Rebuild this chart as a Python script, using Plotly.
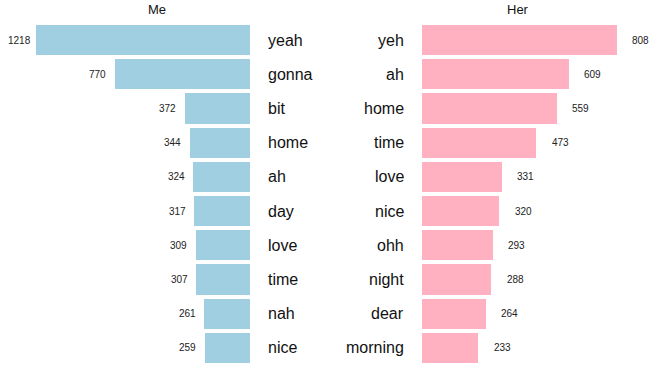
import plotly.graph_objects as go

me_words = ["yeah", "gonna", "bit", "home", "ah", "day", "love", "time", "nah", "nice"]
me_counts = [1218, 770, 372, 344, 324, 317, 309, 307, 261, 259]
her_words = ["yeh", "ah", "home", "time", "love", "nice", "ohh", "night", "dear", "morning"]
her_counts = [808, 609, 559, 473, 331, 320, 293, 288, 264, 233]
ranks = list(range(10))

BLUE = "#a0cfe2"
PINK = "#ffb1c1"
FONT = "Liberation Sans, Arial, sans-serif"

fig = go.Figure()
fig.add_trace(go.Bar(x=me_counts, y=ranks, orientation="h", marker=dict(color=BLUE, line=dict(width=0)),
                     width=0.88, xaxis="x", yaxis="y", hoverinfo="skip", showlegend=False))
fig.add_trace(go.Bar(x=her_counts, y=ranks, orientation="h", marker=dict(color=PINK, line=dict(width=0)),
                     width=0.88, xaxis="x2", yaxis="y2", hoverinfo="skip", showlegend=False))

ann = []
for r, w, c in zip(ranks, me_words, me_counts):
    ann.append(dict(x=c, y=r, xref="x", yref="y", text=str(c), showarrow=False, xanchor="center",
                    xshift=-17, font=dict(size=10, color="#222", family=FONT)))
    ann.append(dict(x=0, y=r, xref="x", yref="y", text=w, showarrow=False, xanchor="left",
                    xshift=16, font=dict(size=16, color="#111", family=FONT)))
for r, w, c in zip(ranks, her_words, her_counts):
    ann.append(dict(x=c, y=r, xref="x2", yref="y2", text=str(c), showarrow=False, xanchor="center",
                    xshift=24, font=dict(size=10, color="#222", family=FONT)))
    ann.append(dict(x=0, y=r, xref="x2", yref="y2", text=w, showarrow=False, xanchor="right",
                    xshift=-16, font=dict(size=16, color="#111", family=FONT)))
ann.append(dict(x=146/657, y=1, xref="paper", yref="paper", text="Me", showarrow=False,
                yanchor="bottom", yshift=4, font=dict(size=13, color="#111", family=FONT)))
ann.append(dict(x=531/657, y=1, xref="paper", yref="paper", text="Her", showarrow=False,
                yanchor="bottom", yshift=4, font=dict(size=13, color="#111", family=FONT)))

axis_common = dict(showgrid=False, zeroline=False, showticklabels=False, showline=False, ticks="",
                   fixedrange=True)
fig.update_layout(
    width=657, height=368,
    margin=dict(l=0, r=0, t=23, b=3),
    paper_bgcolor="white", plot_bgcolor="white",
    bargap=0,
    hovermode=False,
    xaxis=dict(domain=[0, 250/657], range=[1423, 0], **axis_common),
    xaxis2=dict(domain=[422/657, 1], range=[0, 974], **axis_common),
    yaxis=dict(range=[9.5, -0.5], **axis_common),
    yaxis2=dict(range=[9.5, -0.5], anchor="x2", **axis_common),
    annotations=ann,
)
fig.write_html("out.html", config={"displayModeBar": False, "staticPlot": True},
               post_script="document.body.style.margin='0';document.body.style.overflow='hidden';")
